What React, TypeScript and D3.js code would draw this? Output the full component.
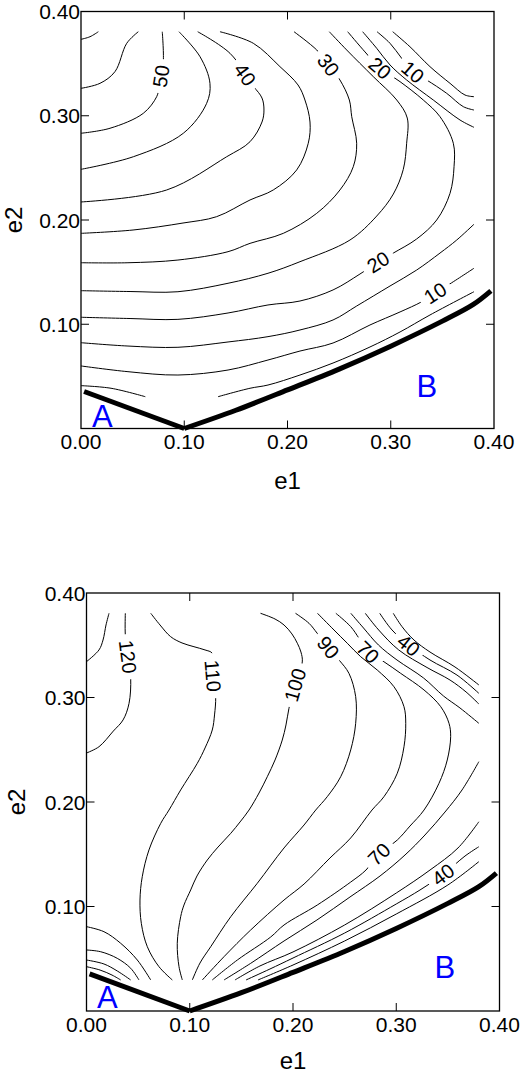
import React from 'react';
import * as d3 from 'd3';

type Pt = [number, number];
type Seg = { level: number; pts: Pt[] };
type Lbl = { level: number; at: Pt };

// ---- shared axis / boundary data ----
const xTickValues = [0, 0.1, 0.2, 0.3, 0.4];
const yTickValues = [0.1, 0.2, 0.3, 0.4];
const innerTicks = [0.1, 0.2, 0.3];

const boundaryA: Pt[] = [[0.003, 0.0355], [0.1, 0]];
const boundaryB: Pt[] = [[0.1, 0], [0.15, 0.0175], [0.2, 0.037], [0.25, 0.057], [0.3, 0.079], [0.35, 0.103], [0.38, 0.119], [0.397, 0.132]];

// ---- top panel contours (e1, e2) ----
const top60: Pt[] = [[0, 0.3733], [0.0087, 0.3758], [0.0168, 0.3806]];
const top55: Pt[] = [[0, 0.3263], [0.0184, 0.3311], [0.0329, 0.3423], [0.0443, 0.3695], [0.0555, 0.3806]];
const top50: Pt[] = [[0, 0.2832], [0.0281, 0.288], [0.0603, 0.3023], [0.0733, 0.3183], [0.0758, 0.3279], [0.0797, 0.3518], [0.0787, 0.3806]];
const top45: Pt[] = [[0, 0.2486], [0.0507, 0.2607], [0.0991, 0.2832], [0.1217, 0.3119], [0.1249, 0.3311], [0.1153, 0.3566], [0.0949, 0.3806]];
const top40: Pt[] = [[0, 0.2173], [0.083, 0.2288], [0.1411, 0.2607], [0.1637, 0.2751], [0.1753, 0.294], [0.1772, 0.3055], [0.1753, 0.317], [0.1669, 0.3285], [0.1443, 0.3599], [0.113, 0.3806]];
const top35: Pt[] = [[0, 0.1872], [0.0504, 0.1904], [0.0988, 0.1971], [0.1314, 0.2032], [0.1637, 0.2192], [0.1862, 0.2288], [0.2089, 0.248], [0.2201, 0.2736], [0.2218, 0.294], [0.2169, 0.3151], [0.2102, 0.3295], [0.1927, 0.3471], [0.1669, 0.3695], [0.1346, 0.3806]];
const top30: Pt[] = [[0, 0.159], [0.0455, 0.159], [0.0939, 0.1616], [0.1424, 0.1696], [0.1637, 0.1776], [0.1959, 0.1872], [0.2283, 0.2064], [0.2508, 0.2288], [0.2637, 0.2511], [0.267, 0.2736], [0.2622, 0.2991], [0.2599, 0.3151], [0.2508, 0.3343], [0.2392, 0.3496], [0.2283, 0.3631], [0.2063, 0.3806]];
const top25: Pt[] = [[0, 0.1322], [0.0475, 0.1314], [0.0939, 0.1312], [0.1424, 0.1393], [0.1811, 0.1489], [0.2121, 0.16], [0.2605, 0.1808], [0.2864, 0.2038], [0.3025, 0.2249], [0.3121, 0.2484], [0.3154, 0.2736], [0.316, 0.2978], [0.3058, 0.3151], [0.2831, 0.3375], [0.2573, 0.3631], [0.2405, 0.3806]];
const top20: Pt[] = [[0, 0.1067], [0.0475, 0.1055], [0.0939, 0.1047], [0.1424, 0.1108], [0.1811, 0.1185], [0.2121, 0.1223], [0.2441, 0.1329], [0.2702, 0.1482], [0.2877, 0.1597], [0.3025, 0.1683], [0.3251, 0.1818], [0.3445, 0.2], [0.3574, 0.2256], [0.3613, 0.2511], [0.3606, 0.2736], [0.3477, 0.2991], [0.3315, 0.3151], [0.309, 0.3327], [0.2896, 0.3458], [0.2751, 0.3612], [0.2583, 0.3806]];
const top15Upper: Pt[] = [[0.2728, 0.3806], [0.2864, 0.3647], [0.2993, 0.3487], [0.3154, 0.3343], [0.3412, 0.3151], [0.3671, 0.2959], [0.3806, 0.2889]];
const top15Lower: Pt[] = [[0, 0.0823], [0.0455, 0.0791], [0.0939, 0.0779], [0.1424, 0.083], [0.1811, 0.0881], [0.2121, 0.0945], [0.2441, 0.1041], [0.267, 0.1175], [0.2993, 0.1367], [0.3251, 0.152], [0.3477, 0.1683], [0.3639, 0.1808], [0.3806, 0.1959]];
const top10Upper: Pt[] = [[0.2867, 0.3806], [0.2993, 0.3695], [0.3106, 0.3551], [0.3215, 0.342], [0.3348, 0.3343], [0.3542, 0.3215], [0.3703, 0.3087], [0.3806, 0.3055]];
const top10Lower: Pt[] = [[0, 0.06], [0.0455, 0.0545], [0.0939, 0.0513], [0.1424, 0.0561], [0.1811, 0.0657], [0.2121, 0.0743], [0.2441, 0.082], [0.2799, 0.0993], [0.309, 0.1118], [0.33, 0.1216], [0.3429, 0.13], [0.3557, 0.1377], [0.3806, 0.1537]];
const top5Upper: Pt[] = [[0.3019, 0.3806], [0.3186, 0.3662], [0.338, 0.3471], [0.3574, 0.3311], [0.3719, 0.3199], [0.3806, 0.3183]];
const top5LowerA: Pt[] = [[0, 0.0411], [0.0291, 0.0386], [0.0623, 0.0305]];
const top5LowerB: Pt[] = [[0.1327, 0.0305], [0.1637, 0.0386], [0.1811, 0.0417], [0.2121, 0.0513], [0.2441, 0.0628], [0.2799, 0.0782], [0.309, 0.0926], [0.338, 0.1089], [0.3806, 0.1312]];

const topLabels: Lbl[] = [
  { level: 50, at: [0.0775, 0.338] },
  { level: 40, at: [0.1588, 0.3395] },
  { level: 30, at: [0.2395, 0.3487] },
  { level: 20, at: [0.2896, 0.3458] },
  { level: 20, at: [0.2877, 0.1597] },
  { level: 10, at: [0.3215, 0.342] },
  { level: 10, at: [0.3429, 0.13] },
];

// ---- bottom panel contours ----
const bot130: Pt[] = [[0.0218, 0.3806], [0.0189, 0.3694], [0.016, 0.355], [0.0121, 0.3455], [0, 0.3343]];
const bot120: Pt[] = [[0.0376, 0.3806], [0.0376, 0.3598], [0.0402, 0.3388], [0.0428, 0.3184], [0.0412, 0.2944], [0.0354, 0.2785], [0.026, 0.2679], [0.0121, 0.2529], [0, 0.2469]];
const bot110: Pt[] = [[0.0622, 0.3806], [0.0712, 0.3694], [0.0815, 0.3582], [0.0925, 0.3522], [0.1041, 0.3486], [0.1148, 0.3455], [0.1218, 0.3423], [0.1225, 0.3215], [0.1251, 0.3008], [0.124, 0.2833], [0.1218, 0.2689], [0.1148, 0.2517], [0.1073, 0.237], [0.0912, 0.2115], [0.0799, 0.1923], [0.0719, 0.1796], [0.0605, 0.1541], [0.054, 0.1285], [0.0518, 0.1062], [0.0531, 0.0839], [0.0589, 0.0615], [0.0702, 0.0424], [0.0831, 0.0297]];
const bot100: Pt[] = [[0.1685, 0.3806], [0.1826, 0.3751], [0.1913, 0.3694], [0.199, 0.3608], [0.2042, 0.3519], [0.2077, 0.3435], [0.209, 0.334], [0.2019, 0.312], [0.1961, 0.2897], [0.1932, 0.2737], [0.1896, 0.2593], [0.1826, 0.2402], [0.1751, 0.2242], [0.1671, 0.2086], [0.1574, 0.1923], [0.1487, 0.1809], [0.1397, 0.17], [0.1274, 0.1569], [0.117, 0.1445], [0.107, 0.1292], [0.1009, 0.1158], [0.0944, 0.1014], [0.0912, 0.0902], [0.0879, 0.0648], [0.0896, 0.0424], [0.0928, 0.0297]];
const bot90: Pt[] = [[0.2024, 0.3806], [0.2155, 0.371], [0.2235, 0.3614], [0.2342, 0.348], [0.2446, 0.3359], [0.2542, 0.3231], [0.2607, 0.3008], [0.2607, 0.2753], [0.2559, 0.2498], [0.2462, 0.2242], [0.2332, 0.2051], [0.222, 0.1923], [0.2107, 0.178], [0.1913, 0.156], [0.1654, 0.1222], [0.1397, 0.0902], [0.1203, 0.0615], [0.1099, 0.0459], [0.1025, 0.0297]];
const bot80: Pt[] = [[0.2237, 0.3806], [0.2397, 0.3646], [0.2526, 0.3519], [0.2656, 0.339], [0.2816, 0.3263], [0.2978, 0.3103], [0.3075, 0.2912], [0.3092, 0.2753], [0.3075, 0.2529], [0.301, 0.2275], [0.2881, 0.2051], [0.2765, 0.1923], [0.2559, 0.1656], [0.2358, 0.1464], [0.2107, 0.1215], [0.1913, 0.1062], [0.159, 0.0775], [0.1332, 0.052], [0.1122, 0.0297]];
const bot70: Pt[] = [[0.2415, 0.3806], [0.2559, 0.3678], [0.2639, 0.3567], [0.2726, 0.3435], [0.2881, 0.3342], [0.3043, 0.3231], [0.3269, 0.3072], [0.3431, 0.2912], [0.3511, 0.2753], [0.3527, 0.2625], [0.3494, 0.2402], [0.3414, 0.2179], [0.3269, 0.1923], [0.3133, 0.177], [0.301, 0.1636], [0.2833, 0.1502], [0.2707, 0.1349], [0.2559, 0.1234], [0.2235, 0.1014], [0.1913, 0.0823], [0.1784, 0.0708], [0.1461, 0.0488], [0.1218, 0.0297]];
const bot60Upper: Pt[] = [[0.256, 0.3806], [0.2683, 0.3665], [0.2828, 0.3502], [0.3007, 0.3359], [0.3264, 0.3187], [0.3458, 0.3014], [0.3617, 0.29], [0.38, 0.2753]];
const bot50Upper: Pt[] = [[0.27, 0.3806], [0.283, 0.3646], [0.3024, 0.3455], [0.3298, 0.3287], [0.3521, 0.3167], [0.3676, 0.3053], [0.38, 0.2938]];
const bot40Upper: Pt[] = [[0.284, 0.3806], [0.2959, 0.3646], [0.3121, 0.3502], [0.3327, 0.3359], [0.3588, 0.3215], [0.38, 0.304]];
const bot30Upper: Pt[] = [[0.2971, 0.3806], [0.3056, 0.3678], [0.3172, 0.355], [0.3327, 0.3435], [0.3569, 0.3292], [0.38, 0.312]];
const bot60Lower: Pt[] = [[0.1332, 0.0297], [0.159, 0.0456], [0.1913, 0.067], [0.2232, 0.0871], [0.2552, 0.1091], [0.2843, 0.1292], [0.3085, 0.1493], [0.3278, 0.1684], [0.3472, 0.1904], [0.3637, 0.2115], [0.38, 0.2386]];
const bot50Lower: Pt[] = [[0.1438, 0.0297], [0.168, 0.0431], [0.2, 0.0565], [0.25, 0.0823], [0.3, 0.1129], [0.3327, 0.1349], [0.3598, 0.156], [0.38, 0.1811]];
const bot40Lower: Pt[] = [[0.1545, 0.0297], [0.1777, 0.0402], [0.2, 0.0507], [0.25, 0.0746], [0.3, 0.1024], [0.323, 0.1158], [0.3453, 0.1306], [0.3666, 0.1483], [0.38, 0.1572]];
const bot30Lower: Pt[] = [[0.1661, 0.0297], [0.2, 0.044], [0.25, 0.067], [0.3, 0.0928], [0.35, 0.1206], [0.38, 0.1429]];
const botCornerA: Pt[] = [[0, 0.0807], [0.0169, 0.0759], [0.0331, 0.0648], [0.0492, 0.0488], [0.0622, 0.0297]];
const botCornerB: Pt[] = [[0, 0.0584], [0.0138, 0.0567], [0.0298, 0.0504], [0.0428, 0.0409], [0.0508, 0.0297]];
const botCornerC: Pt[] = [[0, 0.0488], [0.0169, 0.045], [0.0298, 0.0383], [0.0428, 0.0297]];
const botCornerD: Pt[] = [[0, 0.0424], [0.0131, 0.0392], [0.0247, 0.0344], [0.0331, 0.0297]];

const bottomLabels: Lbl[] = [
  { level: 120, at: [0.0402, 0.339] },
  { level: 110, at: [0.1225, 0.3208] },
  { level: 100, at: [0.2019, 0.312] },
  { level: 90, at: [0.2342, 0.348] },
  { level: 70, at: [0.2726, 0.3435] },
  { level: 70, at: [0.2833, 0.1502] },
  { level: 40, at: [0.3121, 0.3502] },
  { level: 40, at: [0.3453, 0.1306] },
];

const topSegments: Seg[] = [
  { level: 60, pts: top60 }, { level: 55, pts: top55 }, { level: 50, pts: top50 },
  { level: 45, pts: top45 }, { level: 40, pts: top40 }, { level: 35, pts: top35 },
  { level: 30, pts: top30 }, { level: 25, pts: top25 }, { level: 20, pts: top20 },
  { level: 15, pts: top15Upper }, { level: 15, pts: top15Lower },
  { level: 10, pts: top10Upper }, { level: 10, pts: top10Lower },
  { level: 5, pts: top5Upper }, { level: 5, pts: top5LowerA }, { level: 5, pts: top5LowerB },
];

const bottomSegments: Seg[] = [
  { level: 130, pts: bot130 }, { level: 120, pts: bot120 }, { level: 110, pts: bot110 },
  { level: 100, pts: bot100 }, { level: 90, pts: bot90 }, { level: 80, pts: bot80 },
  { level: 70, pts: bot70 },
  { level: 60, pts: bot60Upper }, { level: 50, pts: bot50Upper }, { level: 40, pts: bot40Upper }, { level: 30, pts: bot30Upper },
  { level: 60, pts: bot60Lower }, { level: 50, pts: bot50Lower }, { level: 40, pts: bot40Lower }, { level: 30, pts: bot30Lower },
  { level: 110, pts: botCornerA }, { level: 100, pts: botCornerB }, { level: 90, pts: botCornerC }, { level: 80, pts: botCornerD },
];

const FONT = "'Liberation Sans', Arial, Helvetica, sans-serif";
const fmt = d3.format('.2f');

function pointAt(poly: number[][], s: number): number[] {
  let rest = Math.max(0, s);
  for (let i = 1; i < poly.length; i++) {
    const a = poly[i - 1], b = poly[i];
    const len = Math.hypot(b[0] - a[0], b[1] - a[1]);
    if (rest <= len || i === poly.length - 1) {
      const t = len ? Math.min(1, rest / len) : 0;
      return [a[0] + t * (b[0] - a[0]), a[1] + t * (b[1] - a[1])];
    }
    rest -= len;
  }
  return poly[poly.length - 1];
}

type PanelProps = {
  id: string;
  left: number; right: number; top: number; bottom: number;
  segments: Seg[]; labels: Lbl[];
  aAt: Pt; bAt: Pt;
  e1Base: number; e2X: number;
};

function Panel({ id, left, right, top, bottom, segments, labels, aAt, bAt, e1Base, e2X }: PanelProps) {
  const x = d3.scaleLinear().domain([0, 0.4]).range([left, right]);
  const y = d3.scaleLinear().domain([0, 0.4]).range([bottom, top]);
  const line = d3.line<Pt>().x(d => x(d[0])).y(d => y(d[1])).curve(d3.curveCatmullRom.alpha(0.5));
  const straight = d3.line<Pt>().x(d => x(d[0])).y(d => y(d[1]));
  const fs = 20;

  const placed = labels.map(l => {
    const p = [x(l.at[0]), y(l.at[1])];
    let best = { d: Infinity, poly: [] as number[][], s: 0, q: p };
    segments.filter(s => s.level === l.level).forEach(seg => {
      const poly = seg.pts.map(d => [x(d[0]), y(d[1])]);
      let acc = 0;
      for (let i = 1; i < poly.length; i++) {
        const a = poly[i - 1], b = poly[i];
        const vx = b[0] - a[0], vy = b[1] - a[1];
        const len = Math.hypot(vx, vy);
        const t = len ? Math.max(0, Math.min(1, ((p[0] - a[0]) * vx + (p[1] - a[1]) * vy) / (len * len))) : 0;
        const q = [a[0] + t * vx, a[1] + t * vy];
        const d = Math.hypot(q[0] - p[0], q[1] - p[1]);
        if (d < best.d) best = { d, poly, s: acc + t * len, q };
        acc += len;
      }
    });
    const pa = pointAt(best.poly, best.s - 8);
    const pb = pointAt(best.poly, best.s + 8);
    let ang = (Math.atan2(pb[1] - pa[1], pb[0] - pa[0]) * 180) / Math.PI;
    if (ang > 90) ang -= 180;
    if (ang < -90) ang += 180;
    const text = String(l.level);
    return { ...l, cx: best.q[0], cy: best.q[1], ang, text, w: text.length * 0.556 * fs };
  });

  const maskedLevels = Array.from(new Set(labels.map(l => l.level)));

  return (
    <g>
      <defs>
        {maskedLevels.map(lv => (
          <mask key={lv} id={`${id}-m${lv}`} maskUnits="userSpaceOnUse" x={0} y={0} width={529} height={1074}>
            <rect x={0} y={0} width={529} height={1074} fill="white" />
            {placed.filter(p => p.level === lv).map((p, i) => (
              <rect key={i} x={-(p.w + 12) / 2} y={-9} width={p.w + 12} height={18} fill="black"
                transform={`translate(${p.cx},${p.cy}) rotate(${p.ang})`} />
            ))}
          </mask>
        ))}
      </defs>

      {/* contours */}
      {segments.map((s, i) => (
        <path key={i} d={line(s.pts) || ''} fill="none" stroke="#000" strokeWidth={1}
          mask={maskedLevels.includes(s.level) ? `url(#${id}-m${s.level})` : undefined} />
      ))}

      {/* boundary */}
      <path d={straight(boundaryA) || ''} fill="none" stroke="#000" strokeWidth={5} />
      <path d={line(boundaryB) || ''} fill="none" stroke="#000" strokeWidth={5} />

      {/* contour labels */}
      {placed.map((p, i) => (
        <text key={i} transform={`translate(${p.cx},${p.cy}) rotate(${p.ang})`} textAnchor="middle" dy="0.36em"
          fontSize={fs} fontFamily={FONT} fill="#000">{p.text}</text>
      ))}

      {/* frame and ticks */}
      <rect x={left} y={top} width={right - left} height={bottom - top} fill="none" stroke="#000" strokeWidth={1.3} />
      {innerTicks.map(t => (
        <g key={t} stroke="#000" strokeWidth={1}>
          <line x1={x(t)} x2={x(t)} y1={bottom} y2={bottom - 8} />
          <line x1={x(t)} x2={x(t)} y1={top} y2={top + 8} />
          <line x1={left} x2={left + 8} y1={y(t)} y2={y(t)} />
          <line x1={right} x2={right - 8} y1={y(t)} y2={y(t)} />
        </g>
      ))}
      {xTickValues.map(t => (
        <text key={`x${t}`} x={x(t)} y={bottom + 20.5} textAnchor="middle" fontFamily={FONT} fontSize={21} fill="#000">{fmt(t)}</text>
      ))}
      {yTickValues.map(t => (
        <text key={`y${t}`} x={left - 1} y={y(t)} dy="0.36em" textAnchor="end" fontFamily={FONT} fontSize={21} fill="#000">{fmt(t)}</text>
      ))}
      <text x={(left + right) / 2} y={e1Base} textAnchor="middle" fontFamily={FONT} fontSize={24}>e1</text>
      <text transform={`translate(${e2X},${(top + bottom) / 2}) rotate(-90)`} textAnchor="middle" fontFamily={FONT} fontSize={24}>e2</text>

      {/* region labels */}
      <text x={x(aAt[0])} y={y(aAt[1])} fontFamily={FONT} fontSize={31} fill="#0000ff">A</text>
      <text x={x(bAt[0])} y={y(bAt[1])} fontFamily={FONT} fontSize={31} fill="#0000ff">B</text>
    </g>
  );
}

export default function App() {
  return (
    <svg width={529} height={1074} style={{ position: 'absolute', left: 0, top: 0, background: '#fff' }}>
      <rect x={0} y={0} width={529} height={1074} fill="#fff" />
      <Panel id="top" left={81} right={494} top={11.5} bottom={428.5}
        segments={topSegments} labels={topLabels}
        aAt={[0.0107, 0.0014]} bAt={[0.325, 0.0305]} e1Base={489} e2X={22} />
      <Panel id="bot" left={86.5} right={499.5} top={593} bottom={1011}
        segments={bottomSegments} labels={bottomLabels}
        aAt={[0.0102, 0.0029]} bAt={[0.337, 0.0313]} e1Base={1069} e2X={25} />
    </svg>
  );
}
